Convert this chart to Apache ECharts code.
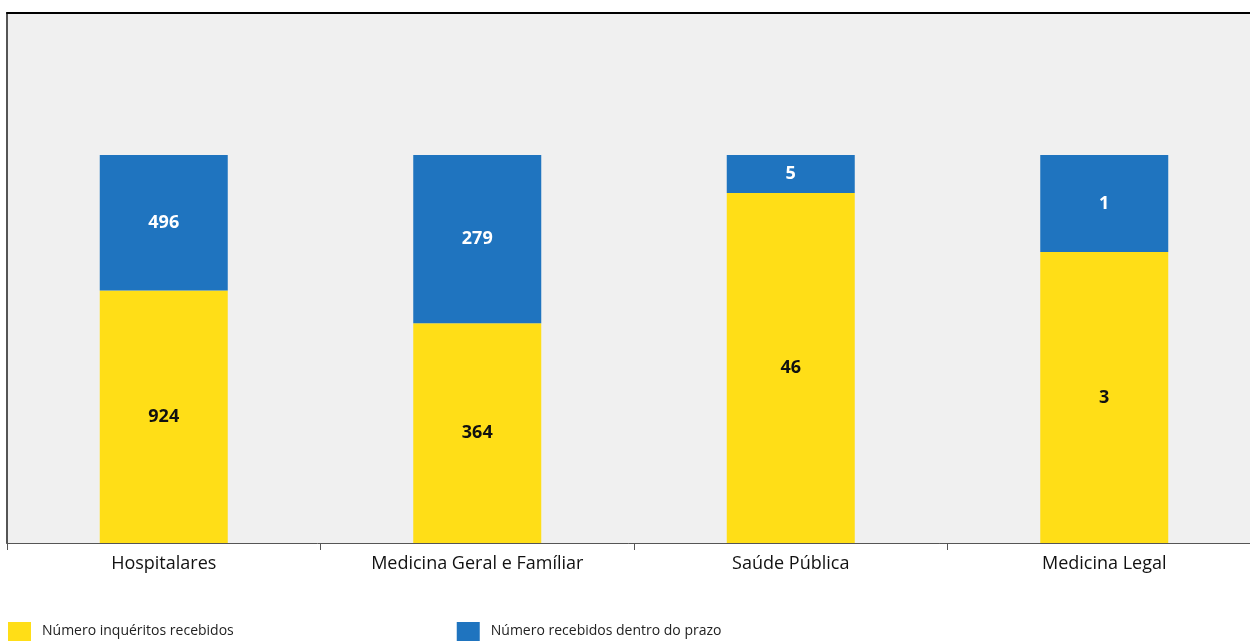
<!DOCTYPE html>
<html><head><meta charset="utf-8">
<script src="https://cdn.jsdelivr.net/npm/echarts@6/dist/echarts.min.js"></script>
<style>html,body{margin:0;padding:0;background:#fff}#c{width:1250px;height:641px}</style>
</head><body><div id="c"></div>
<script>
const categories = ["Hospitalares", "Medicina Geral e Famíliar", "Saúde Pública", "Medicina Legal"];
const recebidos = [924, 364, 46, 3];
const dentroPrazo = [496, 279, 5, 1];
const seriesNames = ["Número inquéritos recebidos", "Número recebidos dentro do prazo"];

const totals = recebidos.map((v, i) => v + dentroPrazo[i]);
const pctA = recebidos.map((v, i) => ({value: v / totals[i] * 100, raw: v}));
const pctB = dentroPrazo.map((v, i) => ({value: v / totals[i] * 100, raw: v}));

const chart = echarts.init(document.getElementById('c'));
const font = '"Open Sans", "Liberation Sans", sans-serif';
chart.setOption({
  animation: false,
  textStyle: {fontFamily: font},
  grid: {left: 7, top: 13, width: 1254, height: 530, show: true, backgroundColor: '#f0f0f0', borderWidth: 0,
    containLabel: false, outerBoundsMode: 'none'},
  legend: {
    left: 3, top: 617, itemWidth: 23, itemHeight: 19, itemGap: 223,
    icon: 'rect', textStyle: {fontSize: 14, color: '#222', fontFamily: font, padding: [10, 0, 0, 6]},
    data: seriesNames
  },
  xAxis: [{
    type: 'category', data: categories,
    axisLine: {lineStyle: {color: '#555', width: 1}},
    axisTick: {show: true, length: 7, lineStyle: {color: '#555'}},
    axisLabel: {fontSize: 18, color: '#111', margin: 12, fontFamily: font}
  }, {
    type: 'category', data: categories, position: 'top',
    axisLine: {show: true, lineStyle: {color: '#000', width: 2}},
    axisTick: {show: false}, axisLabel: {show: false}
  }],
  yAxis: {
    type: 'value', min: 0, max: 136.6,
    splitLine: {show: false}, axisLabel: {show: false}, axisTick: {show: false},
    axisLine: {show: true, lineStyle: {color: '#555', width: 2}}
  },
  series: [{
    name: seriesNames[0], type: 'bar', stack: 's', barWidth: 128,
    itemStyle: {color: '#ffde17'},
    label: {show: true, position: 'inside', fontSize: 18, fontWeight: 'bold', color: '#111',
      formatter: p => p.data.raw},
    data: pctA
  }, {
    name: seriesNames[1], type: 'bar', stack: 's', barWidth: 128,
    itemStyle: {color: '#1f74bf'},
    label: {show: true, position: 'inside', fontSize: 18, fontWeight: 'bold', color: '#fff',
      formatter: p => p.data.raw},
    data: pctB
  }]
});
</script></body></html>
